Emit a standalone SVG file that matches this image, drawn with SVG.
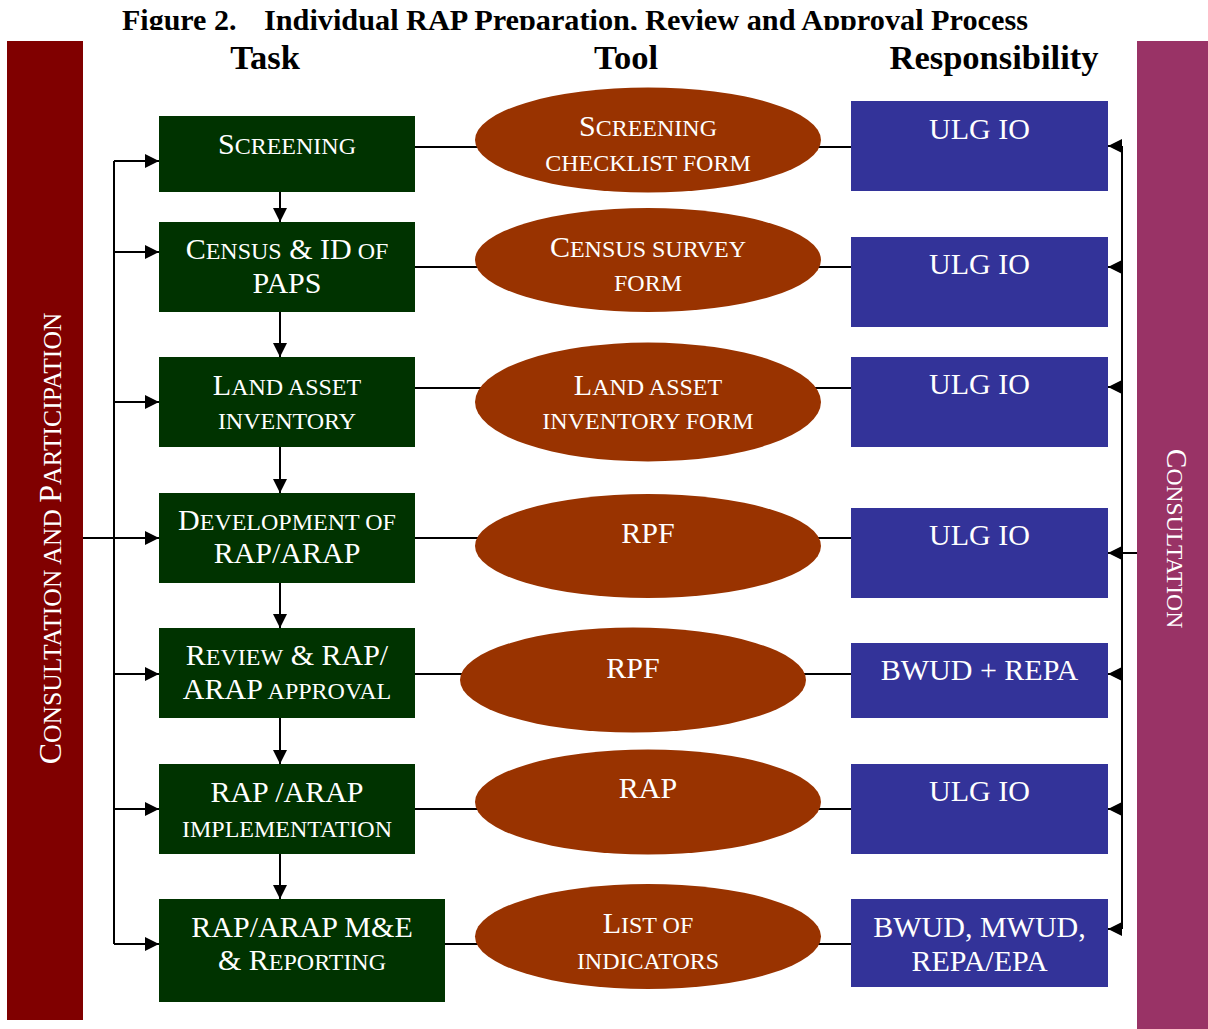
<svg xmlns="http://www.w3.org/2000/svg" width="1208" height="1029" viewBox="0 0 1208 1029">
<style>
.t{font-family:"Liberation Serif","Times New Roman",serif;fill:#fff;text-anchor:middle}
.L{font-size:30px}
.s{font-size:24px}
.h{font-family:"Liberation Serif","Times New Roman",serif;font-weight:bold;fill:#000;text-anchor:middle;font-size:34.5px}
.task{fill:#003300}
.tool{fill:#993300}
.resp{fill:#333399}
.ln{stroke:#000;stroke-width:2;fill:none}
</style>
<defs>
<marker id="ah" viewBox="0 0 14 14" refX="14" refY="7" markerWidth="14" markerHeight="14" orient="auto" markerUnits="userSpaceOnUse"><path d="M0,0 L14,7 L0,14 z" fill="#000"/></marker>
<clipPath id="tc"><rect x="0" y="0" width="1208" height="30"/></clipPath>
</defs>
<rect width="1208" height="1029" fill="#fff"/>
<g id="title" clip-path="url(#tc)">
<text x="122" y="30" font-family="Liberation Serif, serif" font-weight="bold" font-size="30">Figure 2.</text>
<text x="264" y="30" font-family="Liberation Serif, serif" font-weight="bold" font-size="30" textLength="764" lengthAdjust="spacingAndGlyphs">Individual RAP Preparation, Review and Approval Process</text>
</g>
<g id="headers">
<text class="h" x="265" y="69">Task</text>
<text class="h" x="626" y="69">Tool</text>
<text class="h" x="994" y="69">Responsibility</text>
</g>
<g id="bar-left">
<rect x="7" y="41" width="76" height="979" fill="#800000"/>
<text class="t" transform="translate(61,538.5) rotate(-90)"><tspan font-size="32">C</tspan><tspan font-size="25.6">ONSULTATION AND </tspan><tspan font-size="32">P</tspan><tspan font-size="25.6">ARTICIPATION</tspan></text>
</g>
<g id="bar-right">
<rect x="1137" y="41" width="71" height="988" fill="#993366"/>
<text class="t" transform="translate(1167,538.5) rotate(90)"><tspan font-size="29.4">C</tspan><tspan font-size="23.6">ONSULTATION</tspan></text>
</g>
<g id="connectors">
<path class="ln" d="M415,147H851 M415,267H851 M415,388H851 M415,538H851 M415,674H851 M415,809H851 M445,944H851"/>
<path class="ln" d="M83,538H114 M114,161V944"/>
<line class="ln" x1="114" y1="161" x2="159" y2="161" marker-end="url(#ah)"/>
<line class="ln" x1="114" y1="252" x2="159" y2="252" marker-end="url(#ah)"/>
<line class="ln" x1="114" y1="402" x2="159" y2="402" marker-end="url(#ah)"/>
<line class="ln" x1="114" y1="538" x2="159" y2="538" marker-end="url(#ah)"/>
<line class="ln" x1="114" y1="674" x2="159" y2="674" marker-end="url(#ah)"/>
<line class="ln" x1="114" y1="809" x2="159" y2="809" marker-end="url(#ah)"/>
<line class="ln" x1="114" y1="944" x2="159" y2="944" marker-end="url(#ah)"/>
<line class="ln" x1="280" y1="192" x2="280" y2="222" marker-end="url(#ah)"/>
<line class="ln" x1="280" y1="312" x2="280" y2="357" marker-end="url(#ah)"/>
<line class="ln" x1="280" y1="447" x2="280" y2="493" marker-end="url(#ah)"/>
<line class="ln" x1="280" y1="583" x2="280" y2="628" marker-end="url(#ah)"/>
<line class="ln" x1="280" y1="718" x2="280" y2="764" marker-end="url(#ah)"/>
<line class="ln" x1="280" y1="854" x2="280" y2="899" marker-end="url(#ah)"/>
<path class="ln" d="M1137,553H1122 M1122,146V929"/>
<line class="ln" x1="1122" y1="146" x2="1108" y2="146" marker-end="url(#ah)"/>
<line class="ln" x1="1122" y1="267" x2="1108" y2="267" marker-end="url(#ah)"/>
<line class="ln" x1="1122" y1="387" x2="1108" y2="387" marker-end="url(#ah)"/>
<line class="ln" x1="1122" y1="553" x2="1108" y2="553" marker-end="url(#ah)"/>
<line class="ln" x1="1122" y1="674" x2="1108" y2="674" marker-end="url(#ah)"/>
<line class="ln" x1="1122" y1="809" x2="1108" y2="809" marker-end="url(#ah)"/>
<line class="ln" x1="1122" y1="929" x2="1108" y2="929" marker-end="url(#ah)"/>
</g>
<g id="task-screening"><rect class="task" x="159" y="116" width="256" height="76"/>
<text class="t" x="287" y="154"><tspan class="L">S</tspan><tspan class="s">CREENING</tspan></text></g>
<g id="task-census"><rect class="task" x="159" y="222" width="256" height="90"/>
<text class="t" x="287" y="259"><tspan class="L">C</tspan><tspan class="s">ENSUS</tspan><tspan class="L"> &amp; ID</tspan><tspan class="s"> OF</tspan></text>
<text class="t L" x="287" y="293">PAPS</text></g>
<g id="task-land"><rect class="task" x="159" y="357" width="256" height="90"/>
<text class="t" x="287" y="395"><tspan class="L">L</tspan><tspan class="s">AND ASSET</tspan></text>
<text class="t s" x="287" y="429">INVENTORY</text></g>
<g id="task-development"><rect class="task" x="159" y="493" width="256" height="90"/>
<text class="t" x="287" y="530"><tspan class="L">D</tspan><tspan class="s">EVELOPMENT OF</tspan></text>
<text class="t L" x="287" y="563">RAP/ARAP</text></g>
<g id="task-review"><rect class="task" x="159" y="628" width="256" height="90"/>
<text class="t" x="287" y="665"><tspan class="L">R</tspan><tspan class="s">EVIEW</tspan><tspan class="L"> &amp; RAP/</tspan></text>
<text class="t" x="287" y="699"><tspan class="L">ARAP</tspan><tspan class="s"> APPROVAL</tspan></text></g>
<g id="task-implementation"><rect class="task" x="159" y="764" width="256" height="90"/>
<text class="t L" x="287" y="802">RAP /ARAP</text>
<text class="t s" x="287" y="837">IMPLEMENTATION</text></g>
<g id="task-me"><rect class="task" x="159" y="899" width="286" height="103"/>
<text class="t L" x="302" y="937">RAP/ARAP M&amp;E</text>
<text class="t" x="302" y="970"><tspan class="L">&amp; R</tspan><tspan class="s">EPORTING</tspan></text></g>
<g id="tool-checklist"><ellipse class="tool" cx="648" cy="140" rx="173" ry="52.5"/>
<text class="t" x="648" y="136"><tspan class="L">S</tspan><tspan class="s">CREENING</tspan></text>
<text class="t s" x="648" y="171">CHECKLIST FORM</text></g>
<g id="tool-census"><ellipse class="tool" cx="648" cy="260" rx="173" ry="52"/>
<text class="t" x="648" y="257"><tspan class="L">C</tspan><tspan class="s">ENSUS SURVEY</tspan></text>
<text class="t s" x="648" y="291">FORM</text></g>
<g id="tool-land"><ellipse class="tool" cx="648" cy="402" rx="173" ry="59.5"/>
<text class="t" x="648" y="395"><tspan class="L">L</tspan><tspan class="s">AND ASSET</tspan></text>
<text class="t s" x="648" y="429">INVENTORY FORM</text></g>
<g id="tool-rpf1"><ellipse class="tool" cx="648" cy="546" rx="173" ry="52"/>
<text class="t L" x="648" y="543">RPF</text></g>
<g id="tool-rpf2"><ellipse class="tool" cx="633" cy="680" rx="173" ry="52.5"/>
<text class="t L" x="633" y="678">RPF</text></g>
<g id="tool-rap"><ellipse class="tool" cx="648" cy="802" rx="173" ry="52.5"/>
<text class="t L" x="648" y="798">RAP</text></g>
<g id="tool-indicators"><ellipse class="tool" cx="648" cy="936.5" rx="173" ry="52.5"/>
<text class="t" x="648" y="933"><tspan class="L">L</tspan><tspan class="s">IST OF</tspan></text>
<text class="t s" x="648" y="969">INDICATORS</text></g>
<g id="resp-1"><rect class="resp" x="851" y="101" width="257" height="90"/><text class="t L" x="979.5" y="139">ULG IO</text></g>
<g id="resp-2"><rect class="resp" x="851" y="237" width="257" height="90"/><text class="t L" x="979.5" y="274">ULG IO</text></g>
<g id="resp-3"><rect class="resp" x="851" y="357" width="257" height="90"/><text class="t L" x="979.5" y="394">ULG IO</text></g>
<g id="resp-4"><rect class="resp" x="851" y="508" width="257" height="90"/><text class="t L" x="979.5" y="545">ULG IO</text></g>
<g id="resp-5"><rect class="resp" x="851" y="643" width="257" height="75"/><text class="t L" x="979.5" y="680">BWUD + REPA</text></g>
<g id="resp-6"><rect class="resp" x="851" y="764" width="257" height="90"/><text class="t L" x="979.5" y="801">ULG IO</text></g>
<g id="resp-7"><rect class="resp" x="851" y="899" width="257" height="88"/><text class="t L" x="979.5" y="937">BWUD, MWUD,</text><text class="t L" x="979.5" y="971">REPA/EPA</text></g>
</svg>
